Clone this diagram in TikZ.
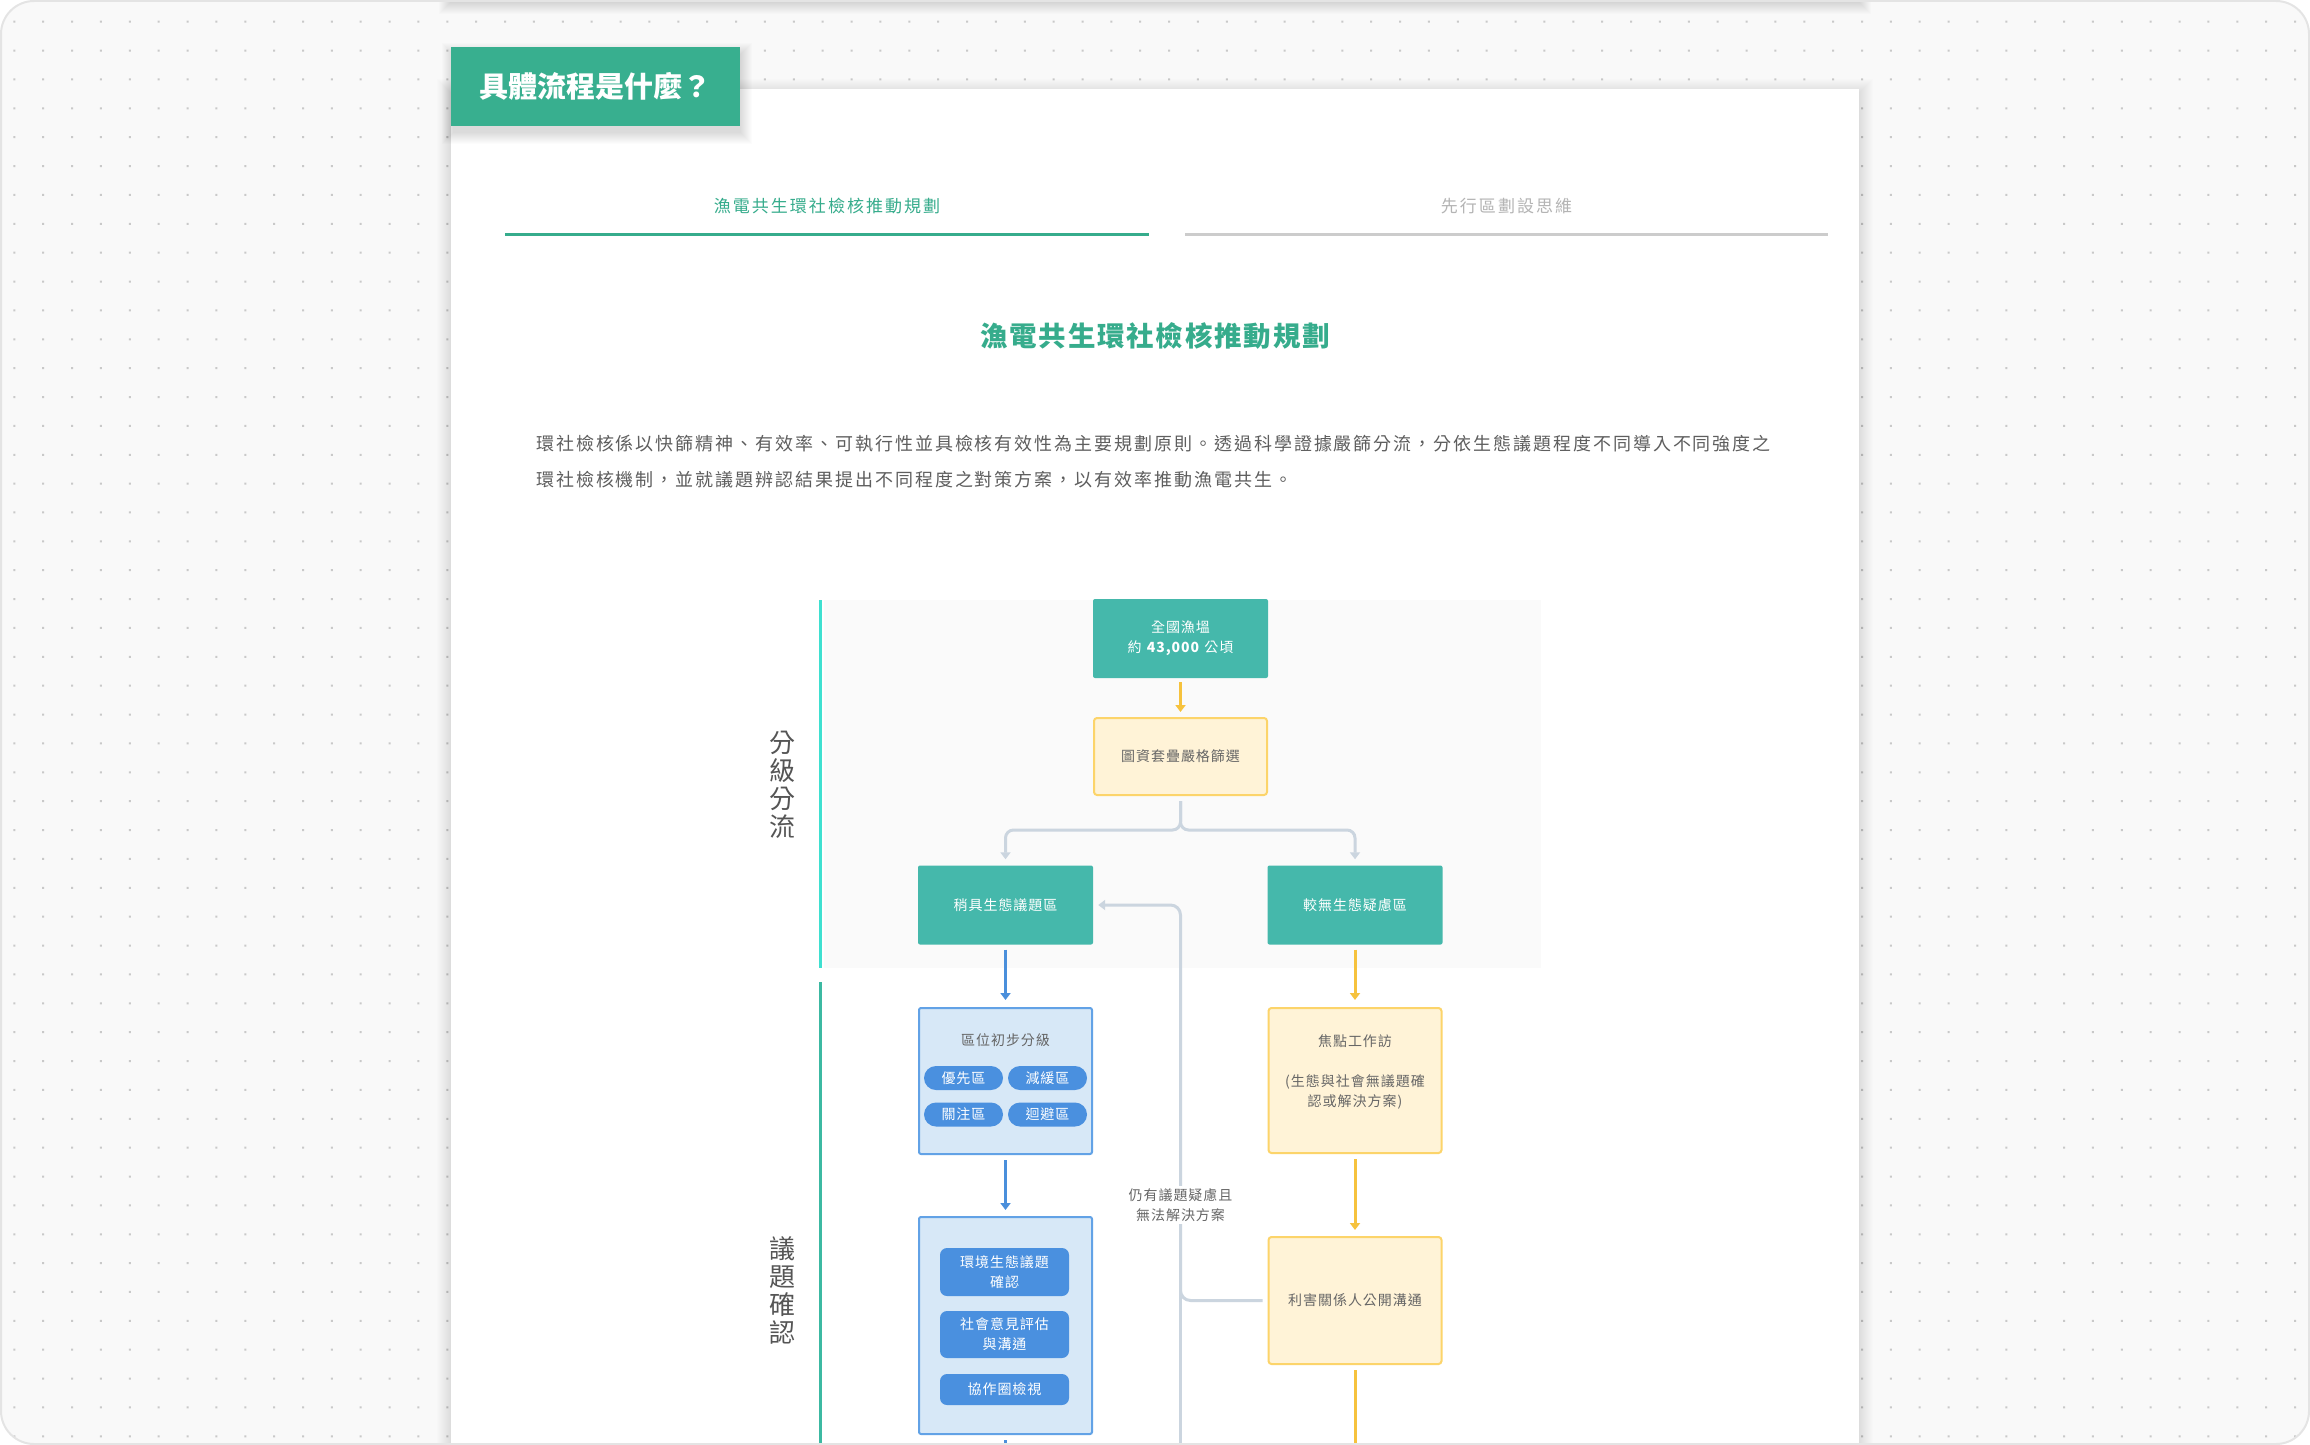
\documentclass[tikz,border=0pt]{standalone}
\usepackage{fontspec}
\setmainfont{Noto Sans CJK TC}
\usetikzlibrary{arrows.meta}
\definecolor{framebg}{HTML}{F9F9F9}
\definecolor{framec}{HTML}{E4E4E4}
\definecolor{dotc}{HTML}{C9C9C9}
\definecolor{tabgreen}{HTML}{38AF8F}
\definecolor{textgreen}{HTML}{36AC8C}
\definecolor{tabgray}{HTML}{B4B4B4}
\definecolor{tabline}{HTML}{CCCCCC}
\definecolor{bodyc}{HTML}{555555}
\definecolor{parac}{HTML}{5E5E5E}
\definecolor{boxtext}{HTML}{666666}
\definecolor{diagbg}{HTML}{FAFAFA}
\definecolor{tealc}{HTML}{45B8AB}
\definecolor{yfill}{HTML}{FFF3D7}
\definecolor{ydraw}{HTML}{FCD46A}
\definecolor{bfill}{HTML}{D7E8F7}
\definecolor{bdraw}{HTML}{62A2E6}
\definecolor{pillc}{HTML}{4A90DF}
\definecolor{garrowc}{HTML}{CBD5DF}
\definecolor{yarrowc}{HTML}{F6C23D}
\definecolor{barrowc}{HTML}{4A8FDB}
\definecolor{cyanline}{HTML}{3FE0D0}
\definecolor{tealline}{HTML}{3CB9A2}
\tikzset{
    boxfont/.style={font=\fontsize{14}{20}\selectfont\addfontfeatures{LetterSpace=7}},
    tealbox/.style={boxfont, fill=tealc, text=white, rounded corners=2pt, minimum width=175pt, minimum height=79pt, inner sep=0pt, align=center},
    yellowbox/.style={boxfont, fill=yfill, draw=ydraw, line width=2pt, text=boxtext, rounded corners=3pt, minimum width=173pt, inner sep=0pt, align=center},
    bluebox/.style={fill=bfill, draw=bdraw, line width=2pt, rounded corners=2pt, minimum width=173pt, inner sep=0pt},
    pill/.style={boxfont, fill=pillc, text=white, rounded corners=12pt, minimum width=79pt, minimum height=24pt, inner sep=0pt},
    bluebtn/.style={boxfont, fill=pillc, text=white, rounded corners=7pt, minimum width=129pt, inner sep=0pt, align=center},
    yarrow/.style={draw=yarrowc, line width=3pt, -{Triangle[length=7pt,width=10pt]}},
    barrow/.style={draw=barrowc, line width=3pt, -{Triangle[length=7pt,width=10pt]}},
    garrow/.style={draw=garrowc, line width=3pt, -{Triangle[length=7pt,width=10pt]}},
    yline/.style={draw=yarrowc, line width=3pt},
    bline/.style={draw=barrowc, line width=3pt},
    gline/.style={draw=garrowc, line width=3pt},
    sidelabel/.style={font=\fontsize{26}{28}\selectfont, text=bodyc, align=center, inner sep=0pt},
    notelabel/.style={boxfont, text=boxtext, fill=white, align=center, inner sep=3pt},
    tabon/.style={font=\fontsize{17}{20}\selectfont\addfontfeatures{LetterSpace=12}, text=textgreen},
    taboff/.style={font=\fontsize{17}{20}\selectfont\addfontfeatures{LetterSpace=12}, text=tabgray},
    heading/.style={font=\fontsize{27.5}{30}\bfseries\selectfont\addfontfeatures{LetterSpace=6.5}, text=textgreen},
    bodytext/.style={font=\fontsize{18}{36}\selectfont\addfontfeatures{LetterSpace=10.8}, text=parac, align=left, inner sep=0pt},
    titletab/.style={font=\fontsize{29}{32}\bfseries\selectfont, text=white, fill=tabgreen, minimum width=289pt, minimum height=79pt, inner sep=0pt}
}
\begin{document}
\begin{tikzpicture}[x=1pt,y=-1pt]
                    \useasboundingbox (0,0) rectangle (2310,1445);
                    \begin{scope}
                    \clip[rounded corners=33pt] (1,1) rectangle (2309,1444);
                    \fill[framebg] (0,0) rectangle (2310,1445);
                    \fill[dotc] foreach \i in {0,...,79} {foreach \j in {0,...,49} {({13.3+28.87*\i},{20.7+28.87*\j}) rectangle ++(2,2)}};
                    \foreach \k in {1,...,12} \fill[black,opacity=0.01] (451-\k,-30) rectangle (1859+\k,2+\k);
                    \fill[white] (451,-30) rectangle (1859,2);
                    \foreach \k in {1,...,14} \fill[black,opacity=0.008] (451-\k,93-\k) rectangle (1859+\k,1460);
                    \fill[white] (451,89) rectangle (1859,1460);
                    \foreach \k in {1,...,12} \fill[black,opacity=0.01] (454-\k,55-\k) rectangle (740+\k,132+\k);
                    \node[titletab] (tabtitle) at (595.5,86.5) {具體流程是什麼？};
                    \node[tabon] (tabfirst) at (827,206) {漁電共生環社檢核推動規劃};
                    \node[taboff] (tabsecond) at (1506.5,206) {先行區劃設思維};
                    \draw[textgreen, line width=3.5pt] (505,234.5) -- (1149,234.5);
                    \draw[tabline, line width=3.5pt] (1185,234.5) -- (1828,234.5);
                    \node[heading] (mainhead) at (1155,336) {漁電共生環社檢核推動規劃};
                    \node[bodytext, anchor=west] (intro) at (536,462) {環社檢核係以快篩精神、有效率、可執行性並具檢核有效性為主要規劃原則。透過科學證據嚴篩分流，分依生態議題程度不同導入不同強度之\\環社檢核機制，並就議題辨認結果提出不同程度之對策方案，以有效率推動漁電共生。};
                    \fill[diagbg] (824,600) rectangle (1541,968);
                    \draw[cyanline, line width=3pt] (820,600) -- (820,968);
                    \draw[tealline, line width=3pt] (820,982) -- (820,1450);
                    \node[sidelabel] (grading) at (782,785) {分\\級\\分\\流};
                    \node[sidelabel] (confirm) at (782,1290) {議\\題\\確\\認};
                    \node[tealbox] (quanguo) at (1180.5,638.5) {全國漁塭\\約 \textbf{43,000} 公頃};
                    \node[yellowbox, minimum height=77pt] (shaixuan) at (1180.5,756.5) {圖資套疊嚴格篩選};
                    \node[tealbox] (shaoju) at (1005.5,905) {稍具生態議題區};
                    \node[tealbox] (jiaowu) at (1355,905) {較無生態疑慮區};
                    \node[bluebox, minimum height=146pt] (quwei) at (1005.5,1081) {};
                    \node[boxfont, text=boxtext] (quweititle) at (1005.5,1040) {區位初步分級};
                    \node[pill] (youxian) at (963.5,1078) {優先區};
                    \node[pill] (jianhuan) at (1047.5,1078) {減緩區};
                    \node[pill] (guanzhu) at (963.5,1114.5) {關注區};
                    \node[pill] (huibi) at (1047.5,1114.5) {迴避區};
                    \node[bluebox, minimum height=217pt] (duice) at (1005.5,1325.5) {};
                    \node[bluebtn, minimum height=48pt] (huanjing) at (1004.5,1272) {環境生態議題\\確認};
                    \node[bluebtn, minimum height=47pt] (shehui) at (1004.5,1334.5) {社會意見評估\\與溝通};
                    \node[bluebtn, minimum height=31pt] (xiezuo) at (1004.5,1389.5) {協作圈檢視};
                    \node[yellowbox, minimum height=145pt] (jiaodian) at (1355,1080.5) {焦點工作訪\\\mbox{}\\(生態與社會無議題確\\認或解決方案)\\\mbox{}};
                    \node[yellowbox, minimum height=127pt] (lihai) at (1355,1300.5) {利害關係人公開溝通};
                    \coordinate (split) at (1180.5,830);
                    \coordinate (loopjoin) at (1180.5,1286);
                    \coordinate (loopfoot) at (1180.5,1450);
                    \draw[yarrow] ([yshift=-4pt]quanguo.south) -- ([yshift=5pt]shaixuan.north);
                    \draw[garrow, rounded corners=8pt] ([yshift=-5pt]shaixuan.south) -- (split) -- (split -| shaoju.north) -- ([yshift=6pt]shaoju.north);
                    \draw[garrow, rounded corners=8pt] ([yshift=-5pt]shaixuan.south) -- (split) -- (split -| jiaowu.north) -- ([yshift=6pt]jiaowu.north);
                    \draw[barrow] ([yshift=-5pt]shaoju.south) -- ([yshift=7pt]quwei.north);
                    \draw[barrow] ([yshift=-5pt]quwei.south) -- ([yshift=6pt]duice.north);
                    \draw[bline] ([yshift=-5pt]duice.south) -- (duice.south |- loopfoot);
                    \draw[yarrow] ([yshift=-5pt]jiaowu.south) -- ([yshift=7pt]jiaodian.north);
                    \draw[yarrow] ([yshift=-5pt]jiaodian.south) -- ([yshift=6pt]lihai.north);
                    \draw[yline] ([yshift=-5pt]lihai.south) -- (lihai.south |- loopfoot);
                    \draw[gline] (loopfoot) -- (loopjoin);
                    \draw[garrow, rounded corners=10pt] ([xshift=-5pt]lihai.west) -- (split |- lihai.west) -- (split |- shaoju.east) -- ([xshift=5pt]shaoju.east);
                    \node[notelabel] (note) at (1180.5,1205) {仍有議題疑慮且\\無法解決方案};
                    \end{scope}
                    \draw[framec, line width=2pt, rounded corners=33pt] (1,1) rectangle (2309,1444);
                \end{tikzpicture}
\end{document}
